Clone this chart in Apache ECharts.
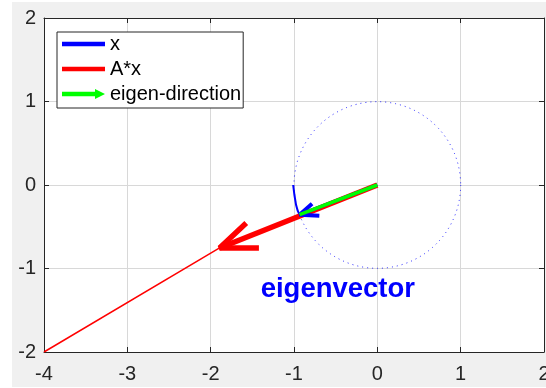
<!DOCTYPE html>
<html>
<head>
<meta charset="utf-8">
<script src="https://cdn.jsdelivr.net/npm/echarts@6/dist/echarts.min.js"></script>
<style>
  html, body { margin: 0; padding: 0; background: #fff; }
  #chart {
    width: 546px; height: 388px;
    background: linear-gradient(#f0f0f0, #f0f0f0) 12px 2px / 534px 385px no-repeat, #fff;
  }
</style>
</head>
<body>
<div id="chart"></div>
<script>
// ---- data (axis units) ----
var xTicks = [-4, -3, -2, -1, 0, 1, 2];
var yTicks = [-2, -1, 0, 1, 2];

var unitCircle = [[0, 0, 1]];                 // center x, center y, radius
var xArc = [[-1.01, 0.0], [-0.995, -0.12], [-0.975, -0.24], [-0.955, -0.31], [-0.933, -0.356]];
var xShaft = [[0, 0], [-0.933, -0.356]];
var xHead = [[-0.783, -0.224], [-0.933, -0.356], [-0.696, -0.368]];
var axShaft = [[0, 0], [-1.893, -0.754]];
var axHead = [[-1.573, -0.455], [-1.893, -0.754], [-1.421, -0.754]];
var axTail = [[-1.893, -0.754], [-4, -2]];
var eigenDir = [[0, 0], [-0.933, -0.356]];
var annotation = [{ value: [-1.4, -1.255], text: 'eigenvector' }];

var seriesNames = ['x', 'A*x', 'eigen-direction'];
var seriesColors = ['#0000ff', '#ff0000', '#00ff00'];

var FONT = '"Liberation Sans", Arial, sans-serif';
var AXIS_COLOR = '#262626';

function lineSeries(name, data, color, width, z) {
  return {
    name: name, type: 'line', data: data, symbol: 'none', showSymbol: false,
    lineStyle: { color: color, width: width, cap: 'butt', join: 'bevel' },
    itemStyle: { color: color },
    connectNulls: false, z: z, silent: true, animation: false
  };
}

var pad = ' M0,0 L0.01,0 L0,0.01 Z M0,12 L0.01,12 L0,11.99 Z';
var barIcon = 'path://M0,3.8 L43,3.8 L43,8.2 L0,8.2 Z' + pad;
var arrowIcon = 'path://M0,3.8 L33,3.8 L33,1 L43,6 L33,11 L33,8.2 L0,8.2 Z' + pad;

var chart = echarts.init(document.getElementById('chart'), null, { renderer: 'canvas' });

var axisCommon = {
  type: 'value', interval: 1,
  axisLine: { show: true, onZero: false, lineStyle: { color: AXIS_COLOR, width: 1 } },
  axisTick: { show: true, inside: true, length: 5, lineStyle: { color: AXIS_COLOR, width: 1 } },
  splitLine: { show: false }
};

var option = {
  backgroundColor: 'transparent',
  animation: false,
  grid: {
    left: 44, right: 2, top: 18, bottom: 36, show: true, backgroundColor: '#ffffff', borderWidth: 0,
    containLabel: false, outerBoundsMode: 'none'
  },
  xAxis: [
    Object.assign({}, axisCommon, {
      position: 'bottom', min: xTicks[0], max: xTicks[xTicks.length - 1],
      axisLabel: { color: AXIS_COLOR, fontSize: 20, fontFamily: FONT, margin: 12 },
      splitLine: { show: true, lineStyle: { color: '#d8d8d8', width: 1 } }
    }),
    Object.assign({}, axisCommon, {
      position: 'top', min: xTicks[0], max: xTicks[xTicks.length - 1],
      axisLabel: { show: false }
    })
  ],
  yAxis: [
    Object.assign({}, axisCommon, {
      position: 'left', min: yTicks[0], max: yTicks[yTicks.length - 1],
      axisLabel: { color: AXIS_COLOR, fontSize: 20, fontFamily: FONT, margin: 8 },
      splitLine: { show: true, lineStyle: { color: '#d8d8d8', width: 1 } }
    }),
    Object.assign({}, axisCommon, {
      position: 'right', min: yTicks[0], max: yTicks[yTicks.length - 1],
      axisLabel: { show: false }
    })
  ],
  legend: {
    orient: 'vertical', left: 57, top: 32,
    itemWidth: 43, itemHeight: 12, itemGap: 5,
    symbolKeepAspect: false,
    padding: [2, 2, 4, 5],
    backgroundColor: '#ffffff', borderColor: AXIS_COLOR, borderWidth: 1, borderRadius: 0,
    textStyle: { fontSize: 20, fontFamily: FONT, color: '#000000', lineHeight: 20 },
    selectedMode: false,
    data: [
      { name: seriesNames[0], icon: barIcon, itemStyle: { color: seriesColors[0], borderWidth: 0 } },
      { name: seriesNames[1], icon: barIcon, itemStyle: { color: seriesColors[1], borderWidth: 0 } },
      { name: seriesNames[2], icon: arrowIcon, itemStyle: { color: seriesColors[2], borderWidth: 0 } }
    ]
  },
  series: [
    {
      name: 'unit circle', type: 'custom', data: unitCircle, z: 2, silent: true,
      encode: { x: 0, y: 1 },
      renderItem: function (params, api) {
        var c = api.coord([api.value(0), api.value(1)]);
        var e = api.coord([api.value(0) + api.value(2), api.value(1)]);
        return {
          type: 'circle',
          shape: { cx: c[0], cy: c[1], r: e[0] - c[0] },
          style: { fill: 'none', stroke: '#0000ff', lineWidth: 1, lineDash: [1, 4], opacity: 0.85 }
        };
      }
    },
    lineSeries('x arc', xArc, seriesColors[0], 2, 3),
    lineSeries('A*x tail', axTail, seriesColors[1], 1.5, 4),
    lineSeries(seriesNames[1], axShaft, seriesColors[1], 5.5, 5),
    lineSeries('A*x head', axHead, seriesColors[1], 5.5, 5),
    lineSeries(seriesNames[0], xShaft, seriesColors[0], 3, 6),
    lineSeries('x head', xHead, seriesColors[0], 4, 6),
    lineSeries(seriesNames[2], eigenDir, seriesColors[2], 3.5, 7),
    {
      name: 'annotation', type: 'scatter', symbolSize: 0, z: 8, silent: true,
      itemStyle: { opacity: 1 },
      data: annotation.map(function (a) { return { value: a.value, text: a.text }; }),
      label: {
        show: true, position: 'right', distance: 0, opacity: 1,
        formatter: function (p) { return p.data.text; },
        color: '#0000ff', fontSize: 27.5, fontWeight: 'bold', fontFamily: FONT
      }
    }
  ]
};
chart.setOption(option);
</script>
</body>
</html>
